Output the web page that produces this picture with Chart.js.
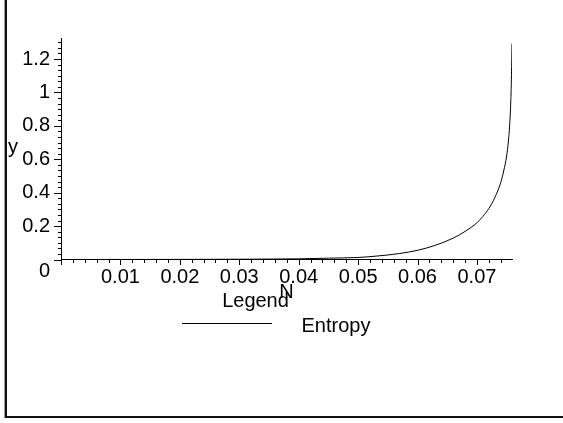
<!DOCTYPE html>
<html>
<head>
<meta charset="utf-8">
<script src="https://cdn.jsdelivr.net/npm/chart.js@4"></script>
<style>
  body { margin: 0; background: #fff; }
  #frame {
    position: absolute; left: 5px; top: 0; width: 600px; height: 416px;
    border-left: 2px solid #111; border-bottom: 2px solid #111;
    box-shadow: -1px 0 0 #999;
  }
  #chart { position: absolute; left: 0; top: 0; }
</style>
</head>
<body>
<div id="frame"></div>
<canvas id="chart" width="563" height="423"></canvas>
<script>
// curve
const nValues = [0, 0.01, 0.02, 0.03, 0.035, 0.04, 0.045, 0.05, 0.052, 0.055, 0.057, 0.06, 0.063, 0.066, 0.068, 0.07, 0.071, 0.072, 0.073, 0.074, 0.0745, 0.075, 0.0753, 0.0755, 0.0757, 0.0758, 0.0759];
const entropyValues = [0, 0.0002, 0.0006, 0.0015, 0.0025, 0.004, 0.008, 0.012, 0.017, 0.027, 0.036, 0.055, 0.085, 0.128, 0.168, 0.22, 0.258, 0.305, 0.37, 0.46, 0.53, 0.62, 0.71, 0.80, 0.95, 1.08, 1.293];
const seriesName = 'Entropy';

const xTickValues = [0.01, 0.02, 0.03, 0.04, 0.05, 0.06, 0.07];
const xTickLabels = ['0.01', '0.02', '0.03', '0.04', '0.05', '0.06', '0.07'];
const yTickValues = [0.2, 0.4, 0.6, 0.8, 1, 1.2];
const yTickLabels = ['0.2', '0.4', '0.6', '0.8', '1', '1.2'];

const FONT = '"Liberation Sans", Arial, sans-serif';
Chart.defaults.font.family = FONT;
Chart.defaults.font.size = 20;
Chart.defaults.color = '#000';

// maple style minor ticks, origin label, axis name and legend
const mapleBits = {
  id: 'mapleBits',
  afterDraw(chart) {
    const ctx = chart.ctx;
    const xa = chart.scales.x, ya = chart.scales.y;
    const axisY = Math.round(ya.getPixelForValue(0));
    const axisX = Math.round(xa.getPixelForValue(0));
    ctx.save();
    ctx.strokeStyle = '#000';
    ctx.lineWidth = 1;
    ctx.beginPath();
    const xStep = 0.002;
    for (let i = 0; i * xStep <= xa.max + 1e-9; i++) {
      const px = Math.round(xa.getPixelForValue(i * xStep)) + 0.5;
      ctx.moveTo(px, axisY);
      ctx.lineTo(px, axisY + (i % 5 === 0 ? 5 : 3));
    }
    const yStep = 0.2 / 6;
    for (let i = 0; i * yStep <= ya.max + 1e-9; i++) {
      const py = Math.round(ya.getPixelForValue(i * yStep)) + 0.5;
      ctx.moveTo(axisX - (i % 6 === 0 ? 7 : 3), py);
      ctx.lineTo(axisX + 1, py);
    }
    ctx.stroke();

    ctx.fillStyle = '#000';
    ctx.font = '20px ' + FONT;
    ctx.textBaseline = 'alphabetic';
    ctx.textAlign = 'right';
    ctx.fillText('0', 50, 276.5);
    ctx.textAlign = 'center';
    ctx.fillText('y', 13, 153);
    ctx.fillText('Legend', 255.5, 307);
    ctx.textAlign = 'left';
    ctx.fillText(chart.data.datasets[0].label, 301.5, 332);
    ctx.beginPath();
    ctx.moveTo(182, 323.5);
    ctx.lineTo(272, 323.5);
    ctx.stroke();
    ctx.restore();
  }
};

const ctx = document.getElementById('chart').getContext('2d');
const entropyChart = new Chart(ctx, {
  type: 'scatter',
  data: {
    datasets: [{
      label: seriesName,
      data: nValues.map((n, i) => ({ x: n, y: entropyValues[i] })),
      showLine: true,
      borderColor: '#000',
      borderWidth: 1,
      pointRadius: 0,
      cubicInterpolationMode: 'monotone',
      fill: false
    }]
  },
  options: {
    responsive: false,
    animation: false,
    events: [],
    layout: { padding: { left: 0, top: 38, right: 51, bottom: 119 } },
    plugins: { legend: { display: false }, tooltip: { enabled: false } },
    scales: {
      x: {
        type: 'linear',
        min: 0,
        max: 0.0759,
        grid: { display: false, drawTicks: false },
        border: { color: '#000', width: 1 },
        afterBuildTicks: s => { s.ticks = xTickValues.map(v => ({ value: v })); },
        afterFit: s => { s.height = 44.5; },
        ticks: {
          padding: 6, maxRotation: 0, autoSkip: false,
          callback: (v, i) => xTickLabels[i]
        },
        title: { display: true, text: 'N', padding: 0 }
      },
      y: {
        type: 'linear',
        min: 0,
        max: 1.326,
        grid: { display: false, drawTicks: false },
        border: { color: '#000', width: 1 },
        afterBuildTicks: s => { s.ticks = yTickValues.map(v => ({ value: v })); },
        afterFit: s => { s.width = 61; },
        ticks: {
          padding: 11, autoSkip: false,
          callback: (v, i) => yTickLabels[i]
        }
      }
    }
  },
  plugins: [mapleBits]
});
</script>
</body>
</html>
